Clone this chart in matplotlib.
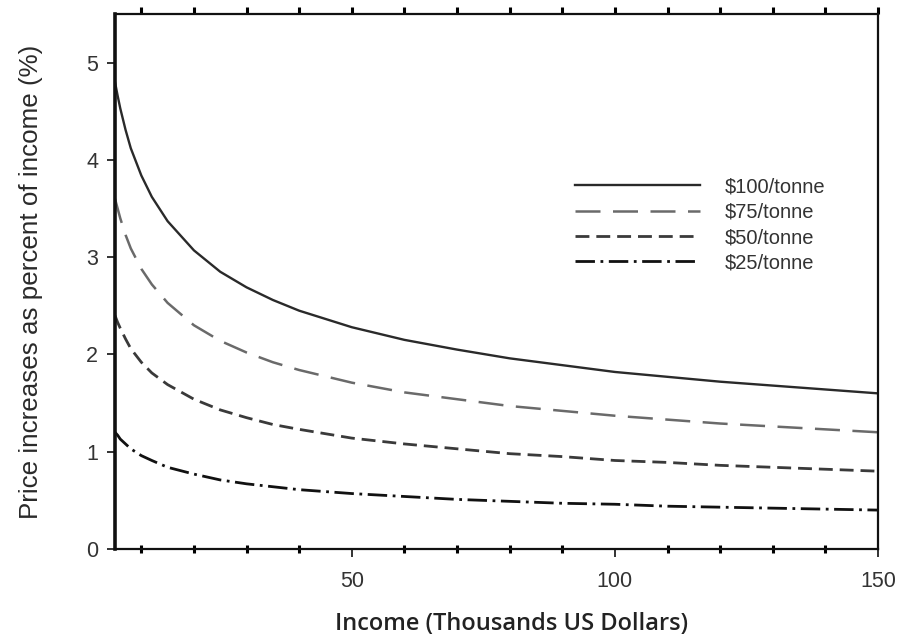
import matplotlib
matplotlib.use("Agg")
import matplotlib.pyplot as plt
from matplotlib.ticker import FixedLocator

income = [5, 5.5, 6, 7, 8, 10, 12, 15, 20, 25, 30, 35, 40, 50, 60, 70, 80, 90, 100, 110, 120, 130, 140, 150]
p100 = [4.80, 4.66, 4.53, 4.31, 4.12, 3.84, 3.62, 3.37, 3.07, 2.85, 2.69, 2.56, 2.45, 2.28, 2.15, 2.05, 1.96, 1.89, 1.82, 1.77, 1.72, 1.68, 1.64, 1.60]
p75 = [3.60, 3.50, 3.40, 3.23, 3.09, 2.88, 2.72, 2.53, 2.30, 2.14, 2.02, 1.92, 1.84, 1.71, 1.61, 1.54, 1.47, 1.42, 1.37, 1.33, 1.29, 1.26, 1.23, 1.20]
p50 = [2.40, 2.33, 2.27, 2.16, 2.06, 1.92, 1.81, 1.69, 1.54, 1.43, 1.35, 1.28, 1.23, 1.14, 1.08, 1.03, 0.98, 0.95, 0.91, 0.89, 0.86, 0.84, 0.82, 0.80]
p25 = [1.20, 1.17, 1.13, 1.08, 1.03, 0.96, 0.91, 0.84, 0.77, 0.71, 0.67, 0.64, 0.61, 0.57, 0.54, 0.51, 0.49, 0.47, 0.46, 0.44, 0.43, 0.42, 0.41, 0.40]
labels = ["$100/tonne", "$75/tonne", "$50/tonne", "$25/tonne"]
xticks = [50, 100, 150]
yticks = [0, 1, 2, 3, 4, 5]

plt.rcParams['font.family'] = ['Liberation Sans', 'DejaVu Sans']

fig = plt.figure(figsize=(8.98, 6.37), dpi=100)
ax = fig.add_axes([115/898, 1-549/637, (878-115)/898, (549-14)/637])

ax.plot(income, p100, color='#2a2a2a', lw=1.7, ls='-', label=labels[0])
ax.plot(income, p75, color='#6a6a6a', lw=1.8, ls=(0, (10, 5)), label=labels[1])
ax.plot(income, p50, color='#3a3a3a', lw=2.0, ls=(0, (5, 2.5)), label=labels[2])
ax.plot(income, p25, color='#111111', lw=2.0, ls=(0, (7, 2, 1, 2)), label=labels[3])

ax.set_xlim(5, 150)
ax.set_ylim(0, 5.5)
ax.xaxis.set_major_locator(FixedLocator(xticks))
ax.yaxis.set_major_locator(FixedLocator(yticks))
ax.xaxis.set_minor_locator(FixedLocator([v for v in range(10, 150, 10) if v not in xticks]))

ax.tick_params(axis='x', which='major', direction='out', length=6, width=1.2,
               labelsize=15.5, pad=10, colors='#111', labelcolor='#333')
ax.tick_params(axis='x', which='minor', direction='inout', length=6, width=2.2, top=False)
ax.tick_params(axis='y', which='major', direction='out', length=6, width=1.2,
               labelsize=15.5, pad=6, colors='#111', labelcolor='#333')

# top ticks via secondary axis
sec = ax.secondary_xaxis('top')
sec.xaxis.set_major_locator(FixedLocator(list(range(10, 151, 10))))
sec.tick_params(direction='out', length=5, width=2.2, labeltop=False)
sec.spines['top'].set_visible(False)

for s in ['top', 'right', 'bottom']:
    ax.spines[s].set_linewidth(1.6)
    ax.spines[s].set_color('#111')
ax.spines['left'].set_linewidth(2.6)
ax.spines['left'].set_color('#111')

ax.set_ylabel("Price increases as percent of income (%)", fontsize=18.7, color='#2a2a2a', labelpad=31)
ax.set_xlabel("Income (Thousands US Dollars)", fontsize=17, fontfamily='Open Sans',
              fontweight='semibold', color='#222')
ax.xaxis.set_label_coords(0.52, -0.117)

leg = ax.legend(loc='center left', bbox_to_anchor=(0.603, 0.606), frameon=False,
                fontsize=14.5, handlelength=6.2, handletextpad=1.25, labelspacing=0.32,
                borderpad=0, borderaxespad=0)
for t in leg.get_texts():
    t.set_color('#333')

fig.savefig("out.png", dpi=100)
